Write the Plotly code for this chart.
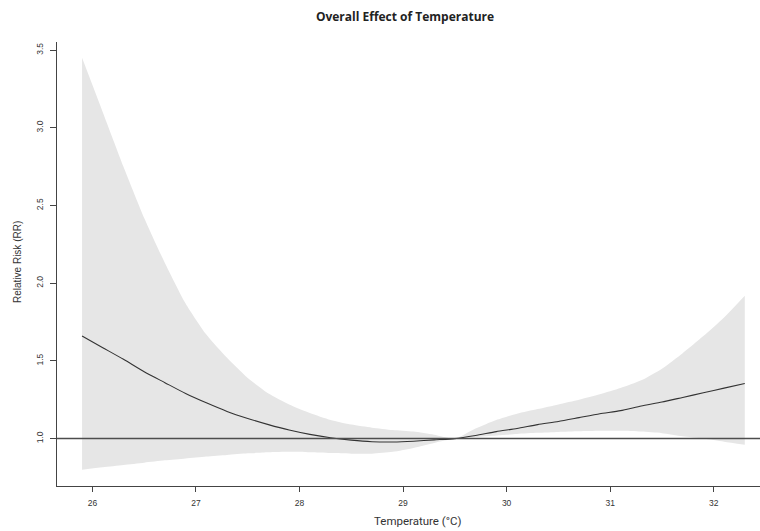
import plotly.graph_objects as go

# ---- data ----
temperature = [25.9, 26.1, 26.3, 26.5, 26.7, 26.9, 27.1, 27.3, 27.5, 27.7, 27.9,
               28.1, 28.3, 28.5, 28.7, 28.9, 29.1, 29.3, 29.5, 29.7, 29.9, 30.1,
               30.3, 30.5, 30.7, 30.9, 31.1, 31.3, 31.5, 31.7, 31.9, 32.1, 32.3]
rr = [1.66, 1.585, 1.51, 1.43, 1.36, 1.29, 1.23, 1.175, 1.13, 1.09, 1.055,
      1.027, 1.005, 0.99, 0.98, 0.978, 0.983, 0.992, 1.0, 1.02, 1.045, 1.065,
      1.09, 1.11, 1.135, 1.16, 1.18, 1.21, 1.235, 1.265, 1.295, 1.325, 1.355]
rr_upper = [3.45, 3.10, 2.75, 2.42, 2.13, 1.87, 1.67, 1.52, 1.39, 1.29, 1.22,
            1.165, 1.12, 1.09, 1.07, 1.055, 1.045, 1.025, 1.0, 1.065, 1.12, 1.16,
            1.19, 1.22, 1.25, 1.285, 1.325, 1.375, 1.45, 1.55, 1.66, 1.78, 1.92]
rr_lower = [0.80, 0.815, 0.83, 0.845, 0.86, 0.872, 0.885, 0.895, 0.905, 0.912, 0.915,
            0.912, 0.907, 0.903, 0.903, 0.915, 0.94, 0.972, 1.0, 1.01, 1.02, 1.03,
            1.037, 1.043, 1.047, 1.05, 1.05, 1.045, 1.035, 1.015, 1.0, 0.98, 0.96]
x_ticks = [26, 27, 28, 29, 30, 31, 32]
y_ticks = [1.0, 1.5, 2.0, 2.5, 3.0, 3.5]
y_tick_labels = ["1.0", "1.5", "2.0", "2.5", "3.0", "3.5"]
reference_rr = 1.0

W, H = 760, 531
PLOT_L, PLOT_T, PLOT_B = 57, 42, 486
PLOT_W, PLOT_H = W - PLOT_L, PLOT_B - PLOT_T

fig = go.Figure()
fig.add_trace(go.Scatter(x=temperature, y=rr_upper, mode="lines",
                         line=dict(width=0, color="rgba(0,0,0,0)", shape="spline", smoothing=0.6),
                         showlegend=False, hoverinfo="skip"))
fig.add_trace(go.Scatter(x=temperature, y=rr_lower, mode="lines", fill="tonexty",
                         fillcolor="#e6e6e6",
                         line=dict(width=0, color="rgba(0,0,0,0)", shape="spline", smoothing=0.6),
                         showlegend=False, hoverinfo="skip"))
fig.add_shape(type="line", xref="paper", x0=0, x1=1, yref="y", y0=reference_rr, y1=reference_rr,
              line=dict(color="#4d4d4d", width=1.5))
fig.add_trace(go.Scatter(x=temperature, y=rr, mode="lines",
                         line=dict(color="#333333", width=1.1, shape="spline", smoothing=0.6),
                         showlegend=False))

tickfont = dict(family="Liberation Sans, Arial, sans-serif", size=8.5, color="#333333")


def px_x(page_x):
    return (page_x - PLOT_L) / PLOT_W


def px_y(page_y):
    return (PLOT_B - page_y) / PLOT_H


fig.update_layout(
    width=W, height=H,
    margin=dict(l=PLOT_L, r=0, t=PLOT_T, b=H - PLOT_B, pad=0),
    paper_bgcolor="white", plot_bgcolor="white",
    title=dict(text="<b>Overall Effect of Temperature</b>", x=px_x(405), xref="paper",
               xanchor="center", y=1 - 17 / H, yanchor="middle",
               font=dict(family="Open Sans, sans-serif", size=12, color="#222222")),
    xaxis=dict(range=[25.658, 32.447], tickvals=x_ticks, ticks="outside", ticklen=5,
               tickcolor="#444444", tickwidth=1, showline=True, linecolor="#444444",
               linewidth=1, showgrid=False, zeroline=False, tickfont=tickfont,
               ticklabelstandoff=4),
    yaxis=dict(range=[0.695, 3.552], tickvals=y_ticks, ticktext=y_tick_labels,
               ticks="outside", ticklen=6, tickcolor="#444444", tickwidth=1,
               showline=True, linecolor="#444444", linewidth=1, showgrid=False,
               zeroline=False, tickfont=tickfont, tickangle=-90, ticklabelstandoff=4),
    annotations=[
        dict(text="Temperature (°C)", xref="paper", yref="paper",
             x=px_x(417), y=px_y(521), xanchor="center", yanchor="middle",
             showarrow=False, font=dict(family="Roboto, sans-serif", size=11.5, color="#333333")),
        dict(text="Relative Risk (RR)", xref="paper", yref="paper",
             x=px_x(17), y=px_y(262), xanchor="center", yanchor="middle",
             textangle=-90, showarrow=False,
             font=dict(family="Liberation Sans, Arial, sans-serif", size=10, color="#333333")),
    ],
)

fig.write_html(
    "out.html",
    config={"displayModeBar": False},
    post_script="document.body.style.margin='0';document.body.style.overflow='hidden';",
)
